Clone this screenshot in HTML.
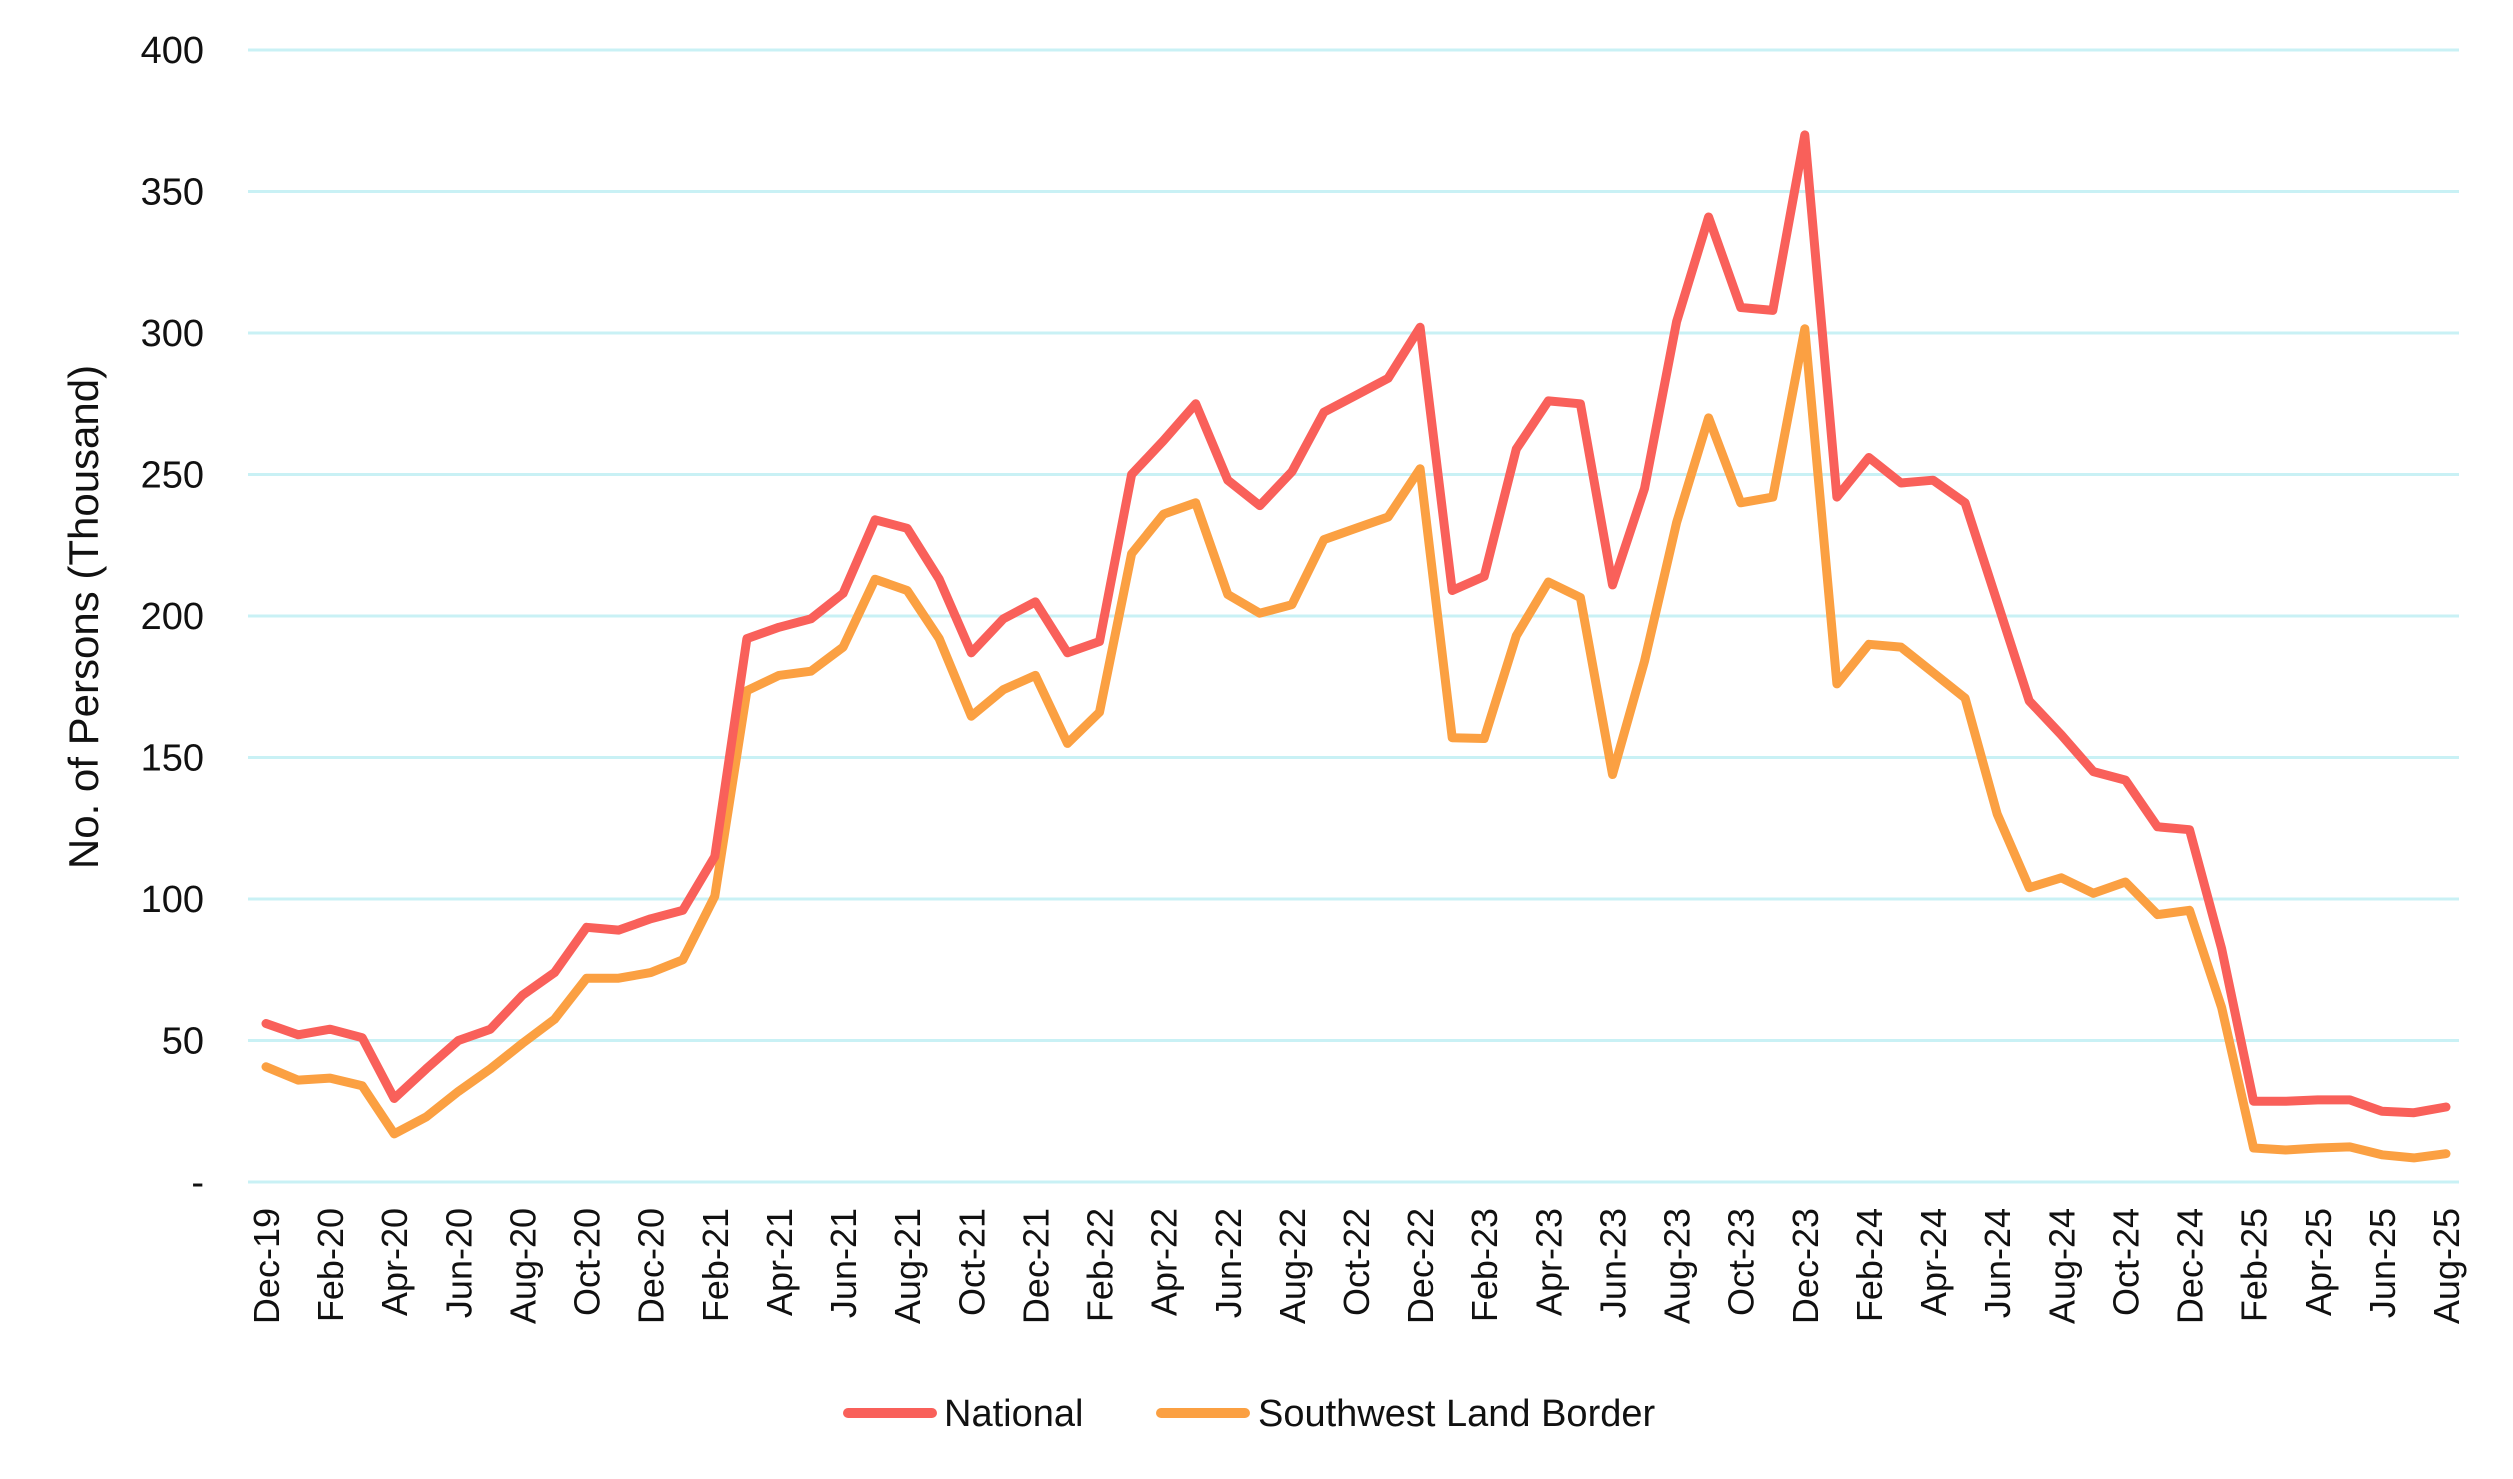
<!DOCTYPE html>
<html><head><meta charset="utf-8"><style>
html,body{margin:0;padding:0;background:#fff;}
svg{display:block;font-family:"Liberation Sans",sans-serif;}
.narrow{font-family:"Liberation Sans Narrow","Liberation Sans",sans-serif;}
</style></head><body>
<svg id="chart" width="2513" height="1479" viewBox="0 0 2513 1479">
<g id="grid"></g>
<g id="yticks"></g>
<g id="xticks"></g>
<text class="narrow" x="0" y="0" transform="translate(98,617) rotate(-90)" text-anchor="middle" font-size="42" fill="#111">No. of Persons (Thousand)</text>
<g id="series"></g>
<g>
<g>
<line x1="848" y1="1413" x2="932" y2="1413" stroke="#F9605A" stroke-width="10" stroke-linecap="round"/>
<text class="narrow" x="944" y="1426" font-size="38" fill="#111">National</text>
</g>
<g>
<line x1="1161" y1="1413" x2="1245" y2="1413" stroke="#FBA042" stroke-width="10" stroke-linecap="round"/>
<text class="narrow" x="1258" y="1426" font-size="38" fill="#111">Southwest Land Border</text>
</g>
</g>
</svg>
<script>
const months = ["Dec-19","Jan-20","Feb-20","Mar-20","Apr-20","May-20","Jun-20","Jul-20","Aug-20","Sep-20","Oct-20","Nov-20","Dec-20","Jan-21","Feb-21","Mar-21","Apr-21","May-21","Jun-21","Jul-21","Aug-21","Sep-21","Oct-21","Nov-21","Dec-21","Jan-22","Feb-22","Mar-22","Apr-22","May-22","Jun-22","Jul-22","Aug-22","Sep-22","Oct-22","Nov-22","Dec-22","Jan-23","Feb-23","Mar-23","Apr-23","May-23","Jun-23","Jul-23","Aug-23","Sep-23","Oct-23","Nov-23","Dec-23","Jan-24","Feb-24","Mar-24","Apr-24","May-24","Jun-24","Jul-24","Aug-24","Sep-24","Oct-24","Nov-24","Dec-24","Jan-25","Feb-25","Mar-25","Apr-25","May-25","Jun-25","Jul-25","Aug-25"];
const national = [56,52,54,51,29.5,40,50,54,66,74,90,89,93,96,115,192,196,199,208,234,231,213,187,199,205,187,191,250,262,275,248,239,251,272,278,284,302,209,214,259,276,275,211,245,304,341,309,308,370,242,256,247,248,240,205,170,158,145,142,125.5,124.5,82.5,28.5,28.5,29,29,25,24.5,26.5];
const southwest = [40.7,36,36.7,34,17,23,32,40,49,57.5,72,72,74,78.5,101,173.6,179,180.5,189,213,209,192,164.6,174,179,155,166,222,236,240,207.6,201,204,227,231,235,252,157,156.7,193,212,206.5,144,184,233,270,240,242,301.5,176,190,189,180,171,130,104,107.5,102,106,94.5,96,61.7,12,11.3,12,12.4,9.6,8.5,10];
const yTicks = [0,50,100,150,200,250,300,350,400];
const yTickLabels = ["-","50","100","150","200","250","300","350","400"];

const NS="http://www.w3.org/2000/svg";
const X0=266, X1=2446, Y0=1182, Y1=50, GL=248, GR=2459;
function xs(i){return X0+(X1-X0)*i/(months.length-1);}
function ys(v){return Y0-(Y0-Y1)*v/400;}
function mk(tag,attrs,parent){const e=document.createElementNS(NS,tag);for(const k in attrs)e.setAttribute(k,attrs[k]);parent.appendChild(e);return e;}

const grid=document.getElementById('grid'), yt=document.getElementById('yticks'), xt=document.getElementById('xticks'), ser=document.getElementById('series');
yTicks.forEach((v,i)=>{
  const l=mk('line',{x1:GL,x2:GR,y1:ys(v),y2:ys(v),stroke:'#c9f1f5','stroke-width':3},grid);
  
  
  const t=mk('text',{x:204,y:ys(v)+13,'text-anchor':'end','font-size':38,fill:'#111',class:'narrow'},yt);
  t.textContent=yTickLabels[i];
  
  
});
months.forEach((m,i)=>{
  if(i%2!==0)return;
  const x=xs(i);
  const t=mk('text',{x:0,y:0,transform:'translate('+(x+13)+',1208) rotate(-90)','text-anchor':'end','font-size':36,fill:'#111'},xt);
  t.textContent=m;
  
  
});
function drawLine(arr,color,name){
  const d=arr.map((v,i)=>(i?'L':'M')+xs(i).toFixed(1)+','+ys(v).toFixed(1)).join(' ');
  const p=mk('path',{d:d,fill:'none',stroke:color,'stroke-width':9,'stroke-linejoin':'round','stroke-linecap':'round'},ser);
  
  
}
drawLine(southwest,'#FBA042','southwest-line');
drawLine(national,'#F9605A','national-line');
</script>
</body></html>
